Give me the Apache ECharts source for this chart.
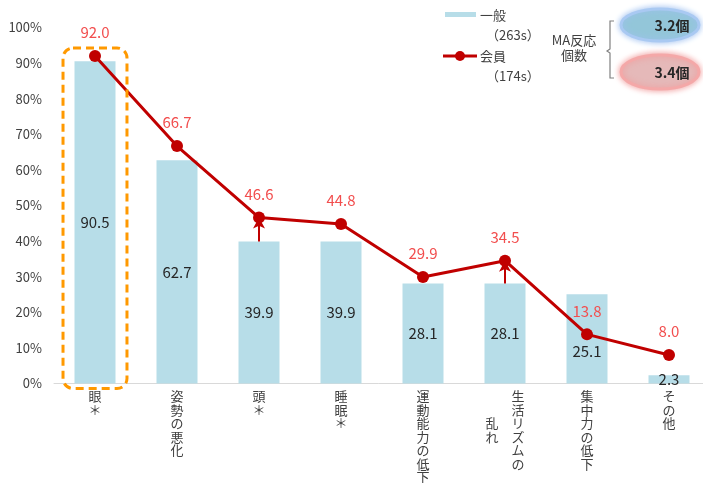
<!DOCTYPE html>
<html>
<head>
<meta charset="utf-8">
<script src="https://cdn.jsdelivr.net/npm/echarts@6/dist/echarts.min.js"></script>
<style>
html,body{margin:0;padding:0;background:#fff;}
#container{width:703px;height:483px;}
</style>
</head>
<body>
<div id="container"></div>
<script>
// カテゴリ（\n は縦書きラベルの列の区切り）
var categories = ['眼＊', '姿勢の悪化', '頭＊', '睡眠＊', '運動能力の低下', '生活リズムの\n乱れ', '集中力の低下', 'その他'];
var ippanValues = [90.5, 62.7, 39.9, 39.9, 28.1, 28.1, 25.1, 2.3];   // 一般 (263s)
var kaiinValues = [92.0, 66.7, 46.6, 44.8, 29.9, 34.5, 13.8, 8.0];   // 会員 (174s)
var arrowIdx = [2, 5];
var yTicks = [0, 10, 20, 30, 40, 50, 60, 70, 80, 90, 100];
var maCounts = ['3.2個', '3.4個'];

var FONT = '"Noto Sans CJK JP", "Noto Sans", sans-serif';
var BAR_COLOR = '#b7dde8';
var LINE_COLOR = '#c00000';
var LABEL_RED = '#f24e4e';

// 縦書き風ラベル
function verticalLabel(name) {
    var cols = name.split('\n');
    var first = cols[0].split('');
    if (cols.length == 1) {
        return first.join('\n');
    }
    var second = cols[1].split('');
    var off = Math.floor((first.length - second.length) / 2);
    var rows = [];
    for (var i = 0; i < first.length; i++) {
        var left = second[i - off] || '　';
        rows.push(left + '　' + first[i]);
    }
    return rows.join('\n');
}

// 集中力の低下は棒ラベルが折れ線の点と重なるので少し下へ
var barData = ippanValues.map(function (v, i) {
    var item = { value: v };
    if (i == 6) {
        item.label = { offset: [0, 12] };
    }
    return item;
});

var arrowData = arrowIdx.map(function (i) {
    return [{ coord: [i, ippanValues[i]] }, { coord: [i, kaiinValues[i]] }];
});

var option = {
    backgroundColor: '#fff',
    animation: false,
    textStyle: { fontFamily: FONT },
    grid: { left: 54, top: 27.5, width: 656, height: 356, outerBoundsMode: 'none' },
    xAxis: {
        type: 'category',
        data: categories,
        axisTick: { show: false },
        axisLine: { lineStyle: { color: '#d9d9d9', width: 1 } },
        axisLabel: {
            interval: 0,
            margin: 6,
            color: '#404040',
            fontSize: 13,
            lineHeight: 13.5,
            fontFamily: FONT,
            verticalAlign: 'top',
            formatter: verticalLabel
        }
    },
    yAxis: {
        type: 'value',
        min: 0,
        max: 100,
        interval: 10,
        splitLine: { show: false },
        axisLine: { show: false },
        axisTick: { show: false },
        axisLabel: {
            margin: 12,
            color: '#404040',
            fontSize: 13,
            fontFamily: FONT,
            formatter: function (v) {
                return yTicks.indexOf(v) >= 0 ? v + '%' : '';
            }
        }
    },
    series: [
        {
            name: '一般',
            type: 'bar',
            data: barData,
            barWidth: '50%',
            itemStyle: { color: BAR_COLOR },
            label: {
                show: true,
                position: 'inside',
                color: '#262626',
                fontSize: 15,
                fontFamily: FONT,
                formatter: function (p) { return Number(p.value).toFixed(1); }
            }
        },
        {
            name: '会員',
            type: 'line',
            data: kaiinValues,
            symbol: 'circle',
            symbolSize: 12,
            lineStyle: { color: LINE_COLOR, width: 3 },
            itemStyle: { color: LINE_COLOR },
            label: {
                show: true,
                position: 'top',
                distance: 10,
                color: LABEL_RED,
                fontSize: 15,
                fontFamily: FONT,
                formatter: function (p) { return Number(p.value).toFixed(1); }
            },
            markLine: {
                silent: true,
                symbol: ['none', 'arrow'],
                symbolSize: [9, 11],
                label: { show: false },
                lineStyle: { color: LINE_COLOR, width: 2, type: 'solid' },
                data: arrowData
            },
            z: 3
        }
    ]
};

var myChart = echarts.init(document.getElementById('container'), null, { renderer: 'canvas' });
myChart.setOption(option);

// 眼の枠（オレンジ点線）と凡例・MA反応個数
var p0 = myChart.convertToPixel({ gridIndex: 0 }, [0, kaiinValues[0]]);
var pBase = myChart.convertToPixel({ gridIndex: 0 }, [0, 0]);
var band = 82;

var textStyle13 = { fill: '#404040', fontSize: 13, fontFamily: FONT };

myChart.setOption({
    graphic: [
        {
            type: 'rect',
            shape: { x: p0[0] - band * 0.39, y: p0[1] - 8, width: band * 0.78, height: pBase[1] + 5 - (p0[1] - 8), r: 10 },
            style: { fill: 'none', stroke: '#ff9900', lineWidth: 3, lineDash: [8, 5] },
            z: 10
        },
        // 凡例
        { type: 'rect', shape: { x: 445, y: 12, width: 31, height: 5 }, style: { fill: BAR_COLOR } },
        { type: 'text', x: 480, y: 15, style: Object.assign({ text: '一般', verticalAlign: 'middle' }, textStyle13) },
        { type: 'text', x: 486, y: 35, style: Object.assign({ text: '（263s）', verticalAlign: 'middle' }, textStyle13) },
        { type: 'line', shape: { x1: 443, y1: 56, x2: 477, y2: 56 }, style: { stroke: LINE_COLOR, lineWidth: 3 } },
        { type: 'circle', shape: { cx: 460, cy: 56, r: 5 }, style: { fill: LINE_COLOR } },
        { type: 'text', x: 480, y: 56, style: Object.assign({ text: '会員', verticalAlign: 'middle' }, textStyle13) },
        { type: 'text', x: 486, y: 76, style: Object.assign({ text: '（174s）', verticalAlign: 'middle' }, textStyle13) },
        // MA反応個数
        { type: 'text', x: 574, y: 48, style: Object.assign({ text: 'MA反応\n個数', align: 'center', verticalAlign: 'middle', lineHeight: 15 }, textStyle13) },
        {
            type: 'polyline',
            shape: { points: [[614, 21], [610, 21], [610, 49], [607, 51], [610, 53], [610, 78], [614, 78]] },
            style: { fill: 'none', stroke: '#808080', lineWidth: 1.2 }
        },
        {
            type: 'ellipse',
            shape: { cx: 660, cy: 25, rx: 39, ry: 16 },
            style: { fill: '#93c6d9', stroke: '#a9c9f2', lineWidth: 3, shadowBlur: 6, shadowColor: '#9fc0f0' }
        },
        {
            type: 'ellipse',
            shape: { cx: 660, cy: 72, rx: 39, ry: 17 },
            style: { fill: '#e5b9b9', stroke: '#f4a8a8', lineWidth: 3, shadowBlur: 6, shadowColor: '#f09a9a' }
        },
        { type: 'text', x: 672, y: 26, style: { text: maCounts[0], align: 'center', verticalAlign: 'middle', fill: '#262626', fontSize: 14, fontWeight: 'bold', fontFamily: FONT } },
        { type: 'text', x: 672, y: 73, style: { text: maCounts[1], align: 'center', verticalAlign: 'middle', fill: '#262626', fontSize: 14, fontWeight: 'bold', fontFamily: FONT } }
    ]
});
</script>
</body>
</html>
